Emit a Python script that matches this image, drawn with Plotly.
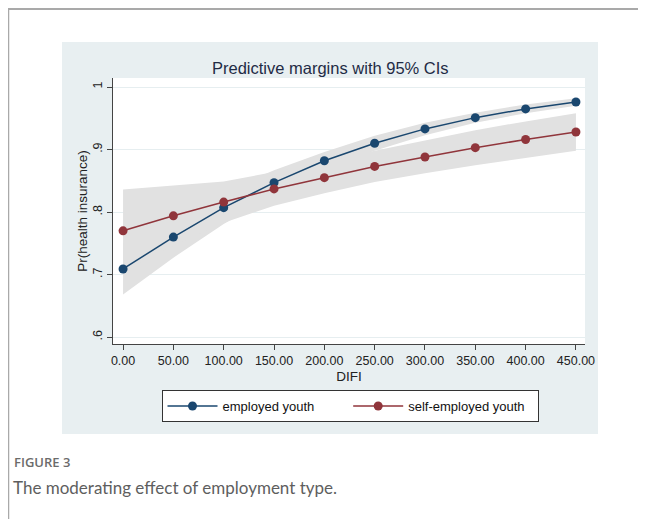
import plotly.graph_objects as go

difi = [0, 50, 100, 150, 200, 250, 300, 350, 400, 450]
tick_labels_x = ["0.00", "50.00", "100.00", "150.00", "200.00", "250.00", "300.00", "350.00", "400.00", "450.00"]

employed = [0.709, 0.760, 0.807, 0.847, 0.882, 0.910, 0.933, 0.951, 0.965, 0.976]
employed_lo = [0.668, 0.727, 0.781, 0.827, 0.868, 0.898, 0.923, 0.943, 0.958, 0.970]
employed_hi = [0.750, 0.793, 0.833, 0.867, 0.896, 0.922, 0.943, 0.959, 0.972, 0.982]

self_emp = [0.770, 0.794, 0.816, 0.837, 0.855, 0.873, 0.888, 0.903, 0.916, 0.928]
self_lo = [0.704, 0.746, 0.783, 0.810, 0.830, 0.848, 0.862, 0.875, 0.887, 0.898]
self_hi = [0.836, 0.842, 0.849, 0.864, 0.880, 0.898, 0.914, 0.931, 0.945, 0.958]

y_ticks = [0.6, 0.7, 0.8, 0.9, 1.0]
y_tick_labels = [".6", ".7", ".8", ".9", "1"]

series_names = ["employed youth", "self-employed youth"]

NAVY = "#1a476f"
MAROON = "#90353b"
BAND = "#e1e1e1"
PANEL = "#e8eff1"
FONT = "Liberation Sans"

OFF = 8  # browser body margin
W, H = 646 - OFF, 519 - OFF
L, R, T, B = 113 - OFF, 585 - OFF, 78 - OFF, 344 - OFF  # plot area pixel bounds (figure coords)


def px(x):
    # x given in window pixels
    return (x - OFF - L) / (R - L)


def py(y):
    return (B - (y - OFF)) / (B - T)


fig = go.Figure()

for lo, hi in [(employed_lo, employed_hi), (self_lo, self_hi)]:
    fig.add_trace(go.Scatter(
        x=difi + difi[::-1], y=hi + lo[::-1], fill="toself", fillcolor=BAND,
        line=dict(width=0), mode="lines", showlegend=False, hoverinfo="skip"))

NBSP = "\u00a0"
fig.add_trace(go.Scatter(
    x=difi, y=employed, mode="lines+markers", name=series_names[0] + NBSP * 8,
    line=dict(color=NAVY, width=1.5), marker=dict(color=NAVY, size=9)))
fig.add_trace(go.Scatter(
    x=difi, y=self_emp, mode="lines+markers", name=series_names[1] + NBSP * 2,
    line=dict(color=MAROON, width=1.5), marker=dict(color=MAROON, size=9)))

shapes = [
    dict(type="rect", xref="paper", yref="paper", x0=px(62), x1=px(598), y0=py(434), y1=py(42),
         fillcolor=PANEL, line=dict(width=0), layer="below"),
    dict(type="rect", xref="paper", yref="paper", x0=0, x1=1, y0=0, y1=1,
         fillcolor="white", line=dict(width=0), layer="below"),
    dict(type="line", xref="paper", yref="paper", x0=px(7), x1=px(660), y0=py(9), y1=py(9),
         line=dict(color="#a9a9a9", width=2)),
    dict(type="line", xref="paper", yref="paper", x0=px(8.5), x1=px(8.5), y0=py(9), y1=py(530),
         line=dict(color="#a9a9a9", width=1.5)),
]

annotations = [
    dict(text="Predictive margins with 95% CIs", xref="paper", yref="paper",
         x=px(330), y=py(68), xanchor="center", yanchor="middle", showarrow=False,
         font=dict(family=FONT, size=16.5, color="#1f2b45")),
    dict(text="FIGURE 3", xref="paper", yref="paper", x=px(12), y=py(462),
         xanchor="left", yanchor="middle", showarrow=False,
         font=dict(family="Open Sans", size=13, color="#6b6b6b", weight=600)),
    dict(text="The moderating effect of employment type.", xref="paper", yref="paper",
         x=px(11), y=py(487), xanchor="left", yanchor="middle", showarrow=False,
         font=dict(family="Lato", size=17, color="#5e5e5e")),
]

fig.update_layout(
    width=W, height=H,
    margin=dict(l=L, r=W - R, t=T, b=H - B),
    paper_bgcolor="white", plot_bgcolor="rgba(0,0,0,0)",
    font=dict(family=FONT, size=13, color="#222"),
    shapes=shapes, annotations=annotations,
    showlegend=True,
    legend=dict(orientation="h", x=px(350), xanchor="center", y=py(390), yanchor="top",
                bgcolor="white", bordercolor="#333", borderwidth=1,
                font=dict(family=FONT, size=13, color="#111"),
                itemwidth=50),
    xaxis=dict(range=[-10, 459], tickvals=difi, ticktext=tick_labels_x,
               showgrid=False, zeroline=False, showline=True, linecolor="#444", linewidth=1,
               ticks="outside", ticklen=5, tickcolor="#444",
               tickfont=dict(family=FONT, size=12.5, color="#222"),
               title=dict(text="DIFI", font=dict(family=FONT, size=13.5, color="#222"), standoff=4)),
    yaxis=dict(range=[0.589, 1.0144], tickvals=y_ticks, ticktext=y_tick_labels, tickangle=-90,
               showgrid=True, gridcolor="#e6eef0", gridwidth=1, zeroline=False,
               showline=True, linecolor="#444", linewidth=1,
               ticks="outside", ticklen=5, tickcolor="#444",
               tickfont=dict(family=FONT, size=12.5, color="#222"),
               title=dict(text="Pr(health insurance)", font=dict(family=FONT, size=13.5, color="#222"), standoff=0)),
)

fig.write_html("out.html")
